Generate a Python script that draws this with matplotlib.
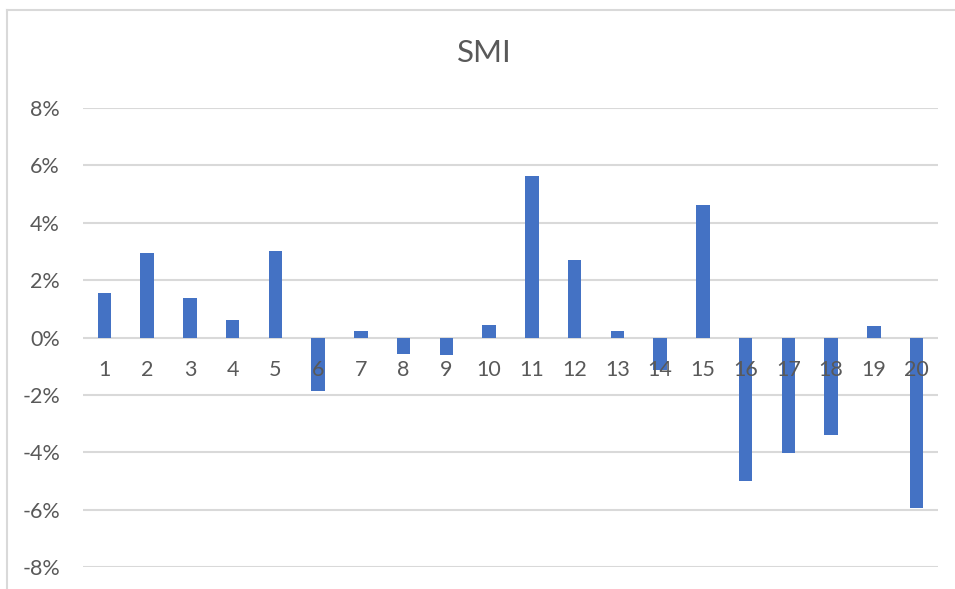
import numpy as np
import matplotlib
matplotlib.use("Agg")
import matplotlib.pyplot as plt
from matplotlib.lines import Line2D
from matplotlib.ticker import FuncFormatter

# data (returns, in %)
categories = [str(i) for i in range(1, 21)]
returns = [1.55, 2.96, 1.36, 0.61, 3.03, -1.88, 0.22, -0.58, -0.62, 0.43,
           5.62, 2.70, 0.22, -1.14, 4.61, -4.99, -4.04, -3.40, 0.41, -5.95]
yticks = [-8, -6, -4, -2, 0, 2, 4, 6, 8]

barColor = "#4472C4"
textColor = "#595959"
gridColor = "#D9D9D9"

plt.rcParams["font.family"] = ["Lato", "DejaVu Sans"]

fig = plt.figure(figsize=(9.55, 5.89), dpi=100)
ax = fig.add_axes([83 / 955, 1 - 567 / 589, (938 - 83) / 955, (567 - 108) / 589])

x = np.arange(1, len(categories) + 1)
vals = np.array(returns) / 100.0
ax.bar(x, vals, width=0.31, color=barColor, zorder=2)

ax.set_xlim(0.5, len(categories) + 0.5)
ax.set_ylim(-0.08, 0.08)
ax.set_yticks(np.array(yticks) / 100.0)
ax.yaxis.set_major_formatter(FuncFormatter(lambda v, p: "%d%%" % round(v * 100)))
ax.tick_params(axis="y", length=0, pad=16.5, labelsize=15.5, labelcolor=textColor)
ax.set_xticks([])
ax.grid(axis="y", color=gridColor, linewidth=1.5, zorder=0)
ax.set_axisbelow(True)
for s in ax.spines.values():
    s.set_visible(False)

# category labels sit just under the zero line, over the bars
for xi, lab in zip(x, categories):
    ax.annotate(lab, (xi, 0), xytext=(0, -32), textcoords="offset pixels",
                ha="center", va="center", fontsize=15.5, color=textColor, zorder=5)

fig.text(484 / 955, 1 - 53 / 589, "SMI", ha="center", va="center",
         fontsize=22.5, color=textColor)

# chart border (top and left visible)
fig.add_artist(Line2D([6.5 / 955, 1], [1 - 9.5 / 589, 1 - 9.5 / 589],
                      transform=fig.transFigure, color=gridColor, lw=1.5))
fig.add_artist(Line2D([6.5 / 955, 6.5 / 955], [0, 1 - 9.5 / 589],
                      transform=fig.transFigure, color=gridColor, lw=1.5))

fig.savefig("out.png", dpi=100, facecolor="white")
